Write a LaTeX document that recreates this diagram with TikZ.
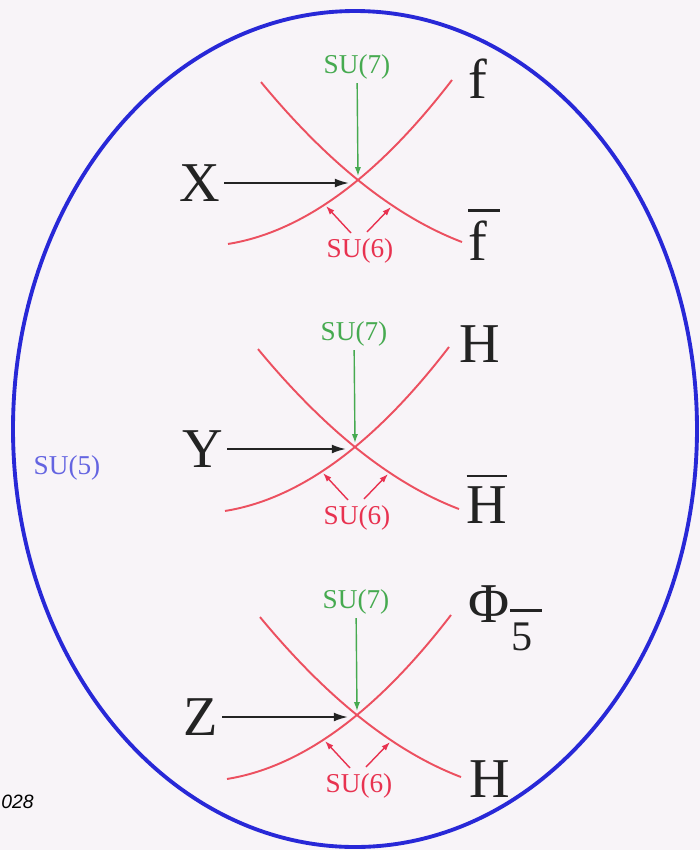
\documentclass[tikz,border=0pt]{standalone}
\usepackage{fontspec}
\setmainfont{Liberation Serif}
\newfontfamily\notefont{Liberation Sans}
\usetikzlibrary{arrows.meta,calc}

\definecolor{bgpink}{RGB}{248,244,248}
\definecolor{sublue}{RGB}{40,40,215}
\definecolor{sufive}{RGB}{100,100,225}
\definecolor{curvered}{RGB}{236,80,96}
\definecolor{sured}{RGB}{232,50,80}
\definecolor{sugreen}{RGB}{70,170,80}
\definecolor{lblgray}{RGB}{35,35,35}
\newcommand{\barred}[2][0pt]{\vbox{\hrule height 1.6pt\kern 5pt\hbox{#2\kern#1}}}

\begin{document}
\begin{tikzpicture}[x=0.02cm,y=-0.02cm,
  biglbl/.style={text=lblgray,font=\fontsize{32}{36}\selectfont,inner sep=2pt},
  sulbl/.style={font=\fontsize{15.5}{17}\selectfont,inner sep=2pt},
  branch/.style={line width=1.1pt,curvered,samples=60,smooth},
  xarrow/.style={line width=1.1pt,lblgray,-{Latex[length=8pt,width=5pt]}},
  garrow/.style={line width=0.8pt,sugreen,-{Latex[length=5pt,width=3.5pt]}},
  rarrow/.style={line width=0.8pt,sured,-{Latex[length=5pt,width=3.5pt]}}]
\useasboundingbox (0,0) rectangle (700,850);
\fill[bgpink] (0,0) rectangle (700,850);
\draw[sublue,line width=2.2pt] (355,429) ellipse [x radius=342, y radius=418];
\node[sulbl,text=sufive] (S5) at (67,468) {SU(5)};
\node[anchor=base west,inner sep=0pt,font=\notefont\itshape\fontsize{11}{13}\selectfont] (ref) at (1,808) {028};
% crossing points
\coordinate (C1) at (358,180);
\coordinate (C2) at (355,447);
\coordinate (C3) at (357,715);
% first crossing
\draw[branch,shift={(C1)},domain=-97:104] plot (\x,{79.7-pow(0.04539*(196.6-\x),2)});
\draw[branch,shift={(C1)},domain=-130:94] plot (\x,{66.5-pow(0.05051*(\x+161.5),2)});
\node[biglbl] (X) at (200,183) {X};
\coordinate (X1tip) at ($(C1)+(-9,3)$);
\draw[xarrow] (X) -- (X1tip);
\node[sulbl,text=sugreen] (S71) at ($(C1)+(-1,-113)$) {SU(7)};
\coordinate (G1tip) at ($(C1)+(0,-4)$);
\draw[garrow] (S71) -- (G1tip);
\node[sulbl,text=sured] (S61) at ($(C1)+(2,71)$) {SU(6)};
\coordinate (L1a) at ($(C1)+(-7,53)$);
\coordinate (L1b) at ($(C1)+(-32,26)$);
\coordinate (R1a) at ($(C1)+(9,52)$);
\coordinate (R1b) at ($(C1)+(33,27)$);
\draw[rarrow] (L1a) -- (L1b);
\draw[rarrow] (R1a) -- (R1b);
\node[biglbl,anchor=base] (f) at (478,98) {f};
\node[biglbl,anchor=base] (fbar) at (484,260) {\barred[7pt]{f}};
% second crossing
\draw[branch,shift={(C2)},domain=-97:104] plot (\x,{79.7-pow(0.04539*(196.6-\x),2)});
\draw[branch,shift={(C2)},domain=-130:94] plot (\x,{66.5-pow(0.05051*(\x+161.5),2)});
\node[biglbl] (Y) at (203,449) {Y};
\coordinate (Y2tip) at ($(C2)+(-9,2)$);
\draw[xarrow] (Y) -- (Y2tip);
\node[sulbl,text=sugreen] (S72) at ($(C2)+(-1,-113)$) {SU(7)};
\coordinate (G2tip) at ($(C2)+(0,-4)$);
\draw[garrow] (S72) -- (G2tip);
\node[sulbl,text=sured] (S62) at ($(C2)+(2,71)$) {SU(6)};
\coordinate (L2a) at ($(C2)+(-7,53)$);
\coordinate (L2b) at ($(C2)+(-32,26)$);
\coordinate (R2a) at ($(C2)+(9,52)$);
\coordinate (R2b) at ($(C2)+(33,27)$);
\draw[rarrow] (L2a) -- (L2b);
\draw[rarrow] (R2a) -- (R2b);
\node[biglbl,anchor=base] (H2) at (480,362) {H};
\node[biglbl,anchor=base] (Hbar) at (487,523) {\barred{H}};
% third crossing
\draw[branch,shift={(C3)},domain=-97:104] plot (\x,{79.7-pow(0.04539*(196.6-\x),2)});
\draw[branch,shift={(C3)},domain=-130:94] plot (\x,{66.5-pow(0.05051*(\x+161.5),2)});
\node[biglbl] (Z) at (201,717) {Z};
\coordinate (Z3tip) at ($(C3)+(-9,2)$);
\draw[xarrow] (Z) -- (Z3tip);
\node[sulbl,text=sugreen] (S73) at ($(C3)+(-1,-113)$) {SU(7)};
\coordinate (G3tip) at ($(C3)+(0,-4)$);
\draw[garrow] (S73) -- (G3tip);
\node[sulbl,text=sured] (S63) at ($(C3)+(2,71)$) {SU(6)};
\coordinate (L3a) at ($(C3)+(-7,53)$);
\coordinate (L3b) at ($(C3)+(-32,26)$);
\coordinate (R3a) at ($(C3)+(9,52)$);
\coordinate (R3b) at ($(C3)+(33,27)$);
\draw[rarrow] (L3a) -- (L3b);
\draw[rarrow] (R3a) -- (R3b);
\node[biglbl,anchor=base west] (Phi) at (465,622) {Φ\raisebox{-16pt}{\fontsize{24}{24}\selectfont\vbox{\hrule height 1.5pt\kern 6pt\hbox{\kern1pt 5\kern5pt}}}};
\node[biglbl,anchor=base] (H3) at (490,797) {H};
\end{tikzpicture}
\end{document}
